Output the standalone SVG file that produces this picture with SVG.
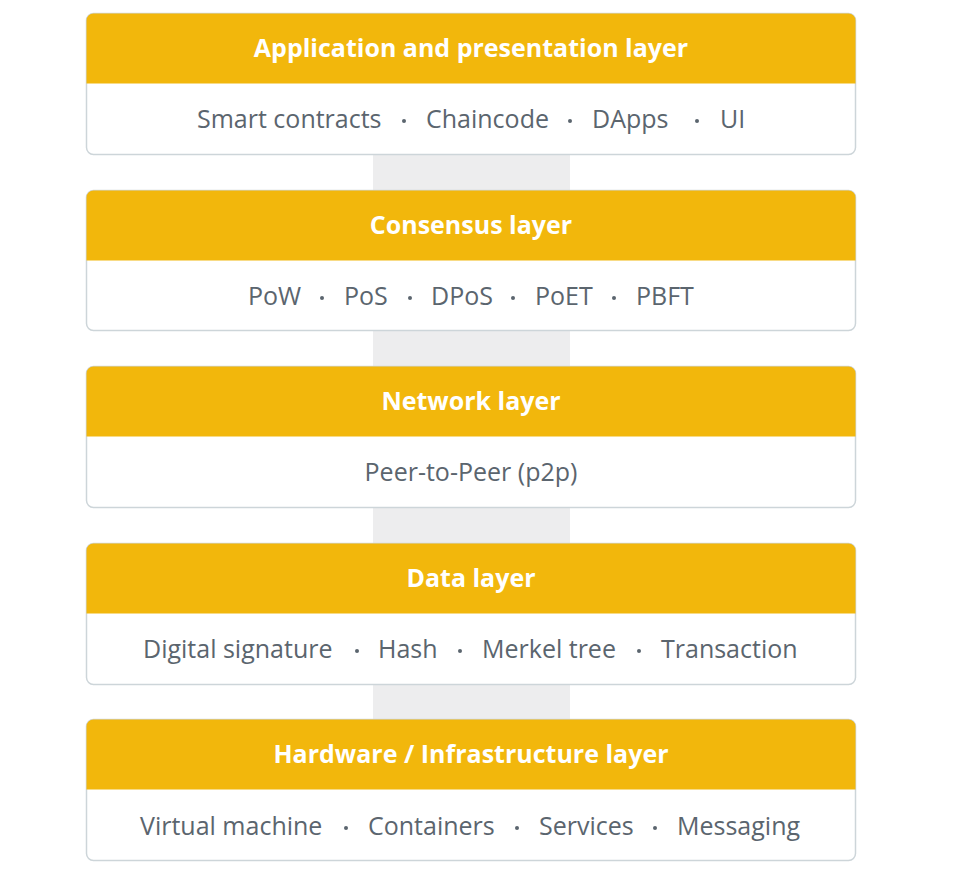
<svg xmlns="http://www.w3.org/2000/svg" width="954" height="884" viewBox="0 0 954 884">
<style>
.card{fill:#ffffff;stroke:#cdd5d9;stroke-width:1.5}
.hdr{fill:#f2b70c}
.ht{font-family:"Open Sans","Liberation Sans",sans-serif;font-weight:700;font-size:25px;fill:#ffffff;text-anchor:middle}
.bt{font-family:"Open Sans","Liberation Sans",sans-serif;font-size:25px;fill:#5b656e}
.dot{fill:#5b656e}
.link{fill:#ededee}
</style>
<rect width="954" height="884" fill="#ffffff"/>
<g id="connectors">
<rect class="link" x="373" y="155" width="197" height="35"/>
<rect class="link" x="373" y="331" width="197" height="35"/>
<rect class="link" x="373" y="508" width="197" height="35"/>
<rect class="link" x="373" y="685" width="197" height="34"/>
</g>
<g id="app-layer">
<rect class="card" x="86.5" y="13.5" width="769" height="141" rx="7"/>
<path class="hdr" d="M93.5,13.5 H848.5 A7,7 0 0 1 855.5,20.5 V83.5 H86.5 V20.5 A7,7 0 0 1 93.5,13.5 Z"/>
<text class="ht" x="471" y="57">Application and presentation layer</text>
<text class="bt" x="197" y="128">Smart contracts</text>
<circle class="dot" cx="404" cy="121" r="2"/>
<text class="bt" x="426" y="128">Chaincode</text>
<circle class="dot" cx="570" cy="121" r="2"/>
<text class="bt" x="592" y="128">DApps</text>
<circle class="dot" cx="697" cy="121" r="2"/>
<text class="bt" x="720" y="128">UI</text>
</g>
<g id="consensus-layer">
<rect class="card" x="86.5" y="190.5" width="769" height="140" rx="7"/>
<path class="hdr" d="M93.5,190.5 H848.5 A7,7 0 0 1 855.5,197.5 V260.5 H86.5 V197.5 A7,7 0 0 1 93.5,190.5 Z"/>
<text class="ht" x="471" y="234">Consensus layer</text>
<text class="bt" x="248" y="305">PoW</text>
<circle class="dot" cx="322" cy="298" r="2"/>
<text class="bt" x="344" y="305">PoS</text>
<circle class="dot" cx="410" cy="298" r="2"/>
<text class="bt" x="431" y="305">DPoS</text>
<circle class="dot" cx="513" cy="298" r="2"/>
<text class="bt" x="535" y="305">PoET</text>
<circle class="dot" cx="614" cy="298" r="2"/>
<text class="bt" x="636" y="305">PBFT</text>
</g>
<g id="network-layer">
<rect class="card" x="86.5" y="366.5" width="769" height="141" rx="7"/>
<path class="hdr" d="M93.5,366.5 H848.5 A7,7 0 0 1 855.5,373.5 V436.5 H86.5 V373.5 A7,7 0 0 1 93.5,366.5 Z"/>
<text class="ht" x="471" y="410">Network layer</text>
<text class="bt" x="471" y="481" text-anchor="middle">Peer-to-Peer (p2p)</text>
</g>
<g id="data-layer">
<rect class="card" x="86.5" y="543.5" width="769" height="141" rx="7"/>
<path class="hdr" d="M93.5,543.5 H848.5 A7,7 0 0 1 855.5,550.5 V613.5 H86.5 V550.5 A7,7 0 0 1 93.5,543.5 Z"/>
<text class="ht" x="471" y="587">Data layer</text>
<text class="bt" x="143" y="658">Digital signature</text>
<circle class="dot" cx="357" cy="651" r="2"/>
<text class="bt" x="378" y="658">Hash</text>
<circle class="dot" cx="460" cy="651" r="2"/>
<text class="bt" x="482" y="658">Merkel tree</text>
<circle class="dot" cx="639" cy="651" r="2"/>
<text class="bt" x="661" y="658">Transaction</text>
</g>
<g id="hardware-layer">
<rect class="card" x="86.5" y="719.5" width="769" height="141" rx="7"/>
<path class="hdr" d="M93.5,719.5 H848.5 A7,7 0 0 1 855.5,726.5 V789.5 H86.5 V726.5 A7,7 0 0 1 93.5,719.5 Z"/>
<text class="ht" x="471" y="763">Hardware / Infrastructure layer</text>
<text class="bt" x="140" y="835">Virtual machine</text>
<circle class="dot" cx="346" cy="828" r="2"/>
<text class="bt" x="368" y="835">Containers</text>
<circle class="dot" cx="517" cy="828" r="2"/>
<text class="bt" x="539" y="835">Services</text>
<circle class="dot" cx="655" cy="828" r="2"/>
<text class="bt" x="677" y="835">Messaging</text>
</g>
</svg>
